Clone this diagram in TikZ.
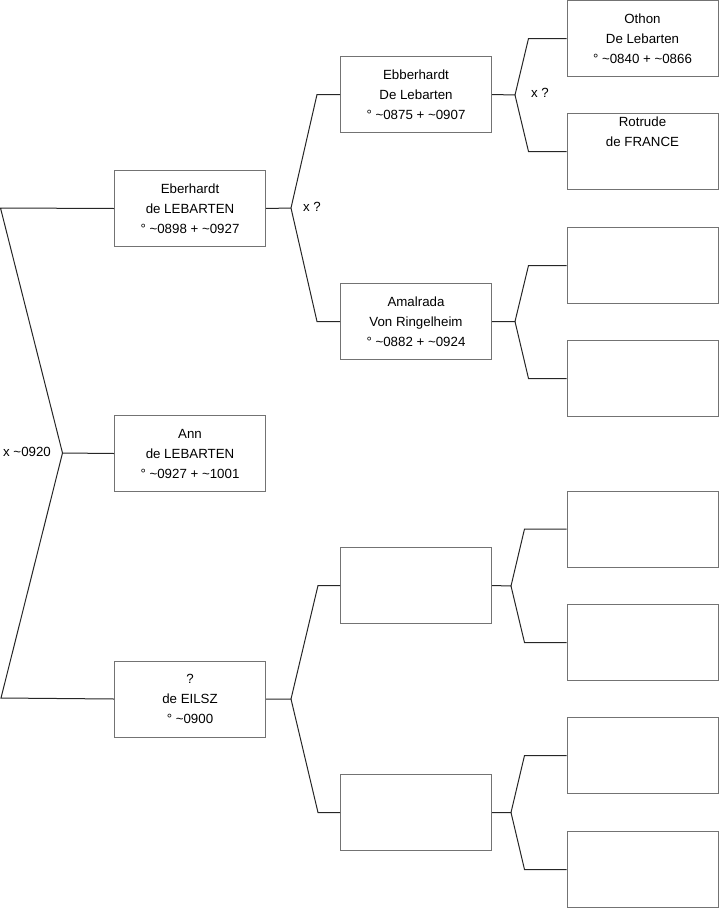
\documentclass[tikz,border=0pt]{standalone}
\usepackage{fontspec}
\setmainfont{Liberation Sans}
\begin{document}
\begin{tikzpicture}[x=1bp,y=-1bp,
  person/.style={draw=black!55, line width=1bp, fill=white, minimum width=151bp, minimum height=76bp, inner sep=0pt, align=center, font=\fontsize{13.3bp}{20bp}\selectfont},
  link/.style={draw=black!85, line width=1bp},
  lbl/.style={font=\fontsize{13.3bp}{16bp}\selectfont, inner sep=0pt}]
\useasboundingbox (0,0) rectangle (719,908);
% generation 1
\node[person] (A) at (190,208.5) {Eberhardt\\de LEBARTEN\\° \textasciitilde0898 + \textasciitilde0927};
\node[person] (B) at (190,453.5) {Ann\\de LEBARTEN\\° \textasciitilde0927 + \textasciitilde1001};
\node[person] (C) at (190,699) {?\\de EILSZ\\° \textasciitilde0900};
% generation 2
\node[person] (D) at (416,94.5) {Ebberhardt\\De Lebarten\\° \textasciitilde0875 + \textasciitilde0907};
\node[person] (E) at (416,321.5) {Amalrada\\Von Ringelheim\\° \textasciitilde0882 + \textasciitilde0924};
\node[person] (F) at (416,585.5) {};
\node[person] (G) at (416,812.5) {};
% generation 3
\node[person] (R1) at (642.5,38.5) {Othon\\De Lebarten\\° \textasciitilde0840 + \textasciitilde0866};
\node[person] (R2) at (642.5,151.5) {Rotrude\\de FRANCE\\[20bp]};
\node[person] (R3) at (642.5,265.5) {};
\node[person] (R4) at (642.5,378.5) {};
\node[person] (R5) at (642.5,529) {};
\node[person] (R6) at (642.5,642.5) {};
\node[person] (R7) at (642.5,755.5) {};
\node[person] (R8) at (642.5,869.5) {};
% root bracket
\coordinate (tl) at (0.5,208);
\coordinate (apex) at (62.5,453);
\coordinate (bl) at (1,698);
\draw[link] (A.west) -- (tl) -- (apex) -- (bl) -- (C.west);
\draw[link] (apex) -- (B.west);
\node[lbl] (m0) at (27,452) {x \textasciitilde0920};
% A parents
\coordinate (bA) at (291,208);
\draw[link] (A.east) -- (bA) -- ([xshift=-23bp]D.west) -- (D.west);
\draw[link] (bA) -- ([xshift=-23bp]E.west) -- (E.west);
\node[lbl] (m1) at (312,207) {x ?};
% C parents
\coordinate (bC) at (291,699);
\draw[link] (C.east) -- (bC) -- ([xshift=-22bp]F.west) -- (F.west);
\draw[link] (bC) -- ([xshift=-22bp]G.west) -- (G.west);
% D parents
\coordinate (bD) at (515,95);
\draw[link] (D.east) -- (bD) -- ([xshift=-38bp]R1.west) -- (R1.west);
\draw[link] (bD) -- ([xshift=-38bp]R2.west) -- (R2.west);
\node[lbl] (m2) at (540,93) {x ?};
% E parents
\coordinate (bE) at (515,321.5);
\draw[link] (E.east) -- (bE) -- ([xshift=-38bp]R3.west) -- (R3.west);
\draw[link] (bE) -- ([xshift=-38bp]R4.west) -- (R4.west);
% F parents
\coordinate (bF) at (511,586);
\draw[link] (F.east) -- (bF) -- ([xshift=-42bp]R5.west) -- (R5.west);
\draw[link] (bF) -- ([xshift=-42bp]R6.west) -- (R6.west);
% G parents
\coordinate (bG) at (511,812.5);
\draw[link] (G.east) -- (bG) -- ([xshift=-42bp]R7.west) -- (R7.west);
\draw[link] (bG) -- ([xshift=-42bp]R8.west) -- (R8.west);
\end{tikzpicture}
\end{document}
